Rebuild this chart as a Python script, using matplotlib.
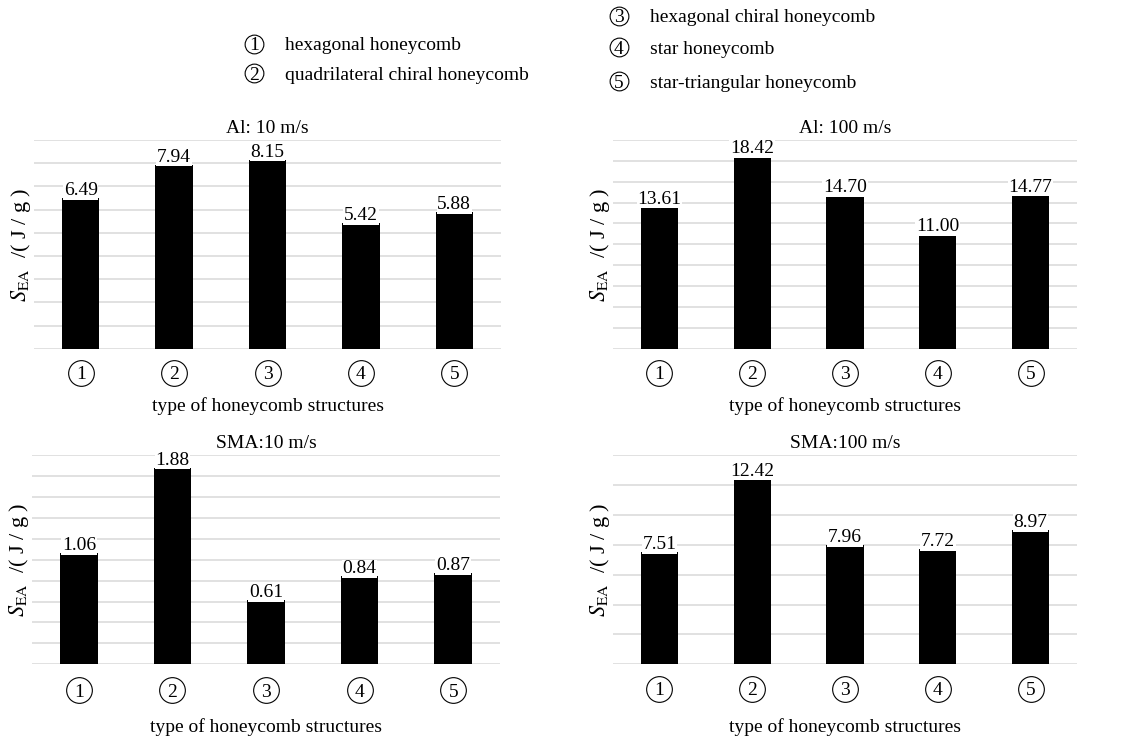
import numpy as np
import matplotlib.pyplot as plt
from matplotlib.transforms import blended_transform_factory, offset_copy
from matplotlib.lines import Line2D

plt.rcParams['font.family'] = ['Liberation Serif', 'DejaVu Serif']
plt.rcParams['mathtext.fontset'] = 'stix'
plt.rcParams['font.size'] = 14

# specific energy absorption per honeycomb type
categories = ['1', '2', '3', '4', '5']
structure_names = ['hexagonal honeycomb', 'quadrilateral chiral honeycomb',
                   'hexagonal chiral honeycomb', 'star honeycomb',
                   'star-triangular honeycomb']
al_10 = [6.49, 7.94, 8.15, 5.42, 5.88]
al_100 = [13.61, 18.42, 14.70, 11.00, 14.77]
sma_10 = [1.06, 1.88, 0.61, 0.84, 0.87]
sma_100 = [7.51, 12.42, 7.96, 7.72, 8.97]
titles = ['Al: 10 m/s', 'Al: 100 m/s', 'SMA:10 m/s', 'SMA:100 m/s']

W, H = 1124, 742
fig = plt.figure(figsize=(W / 100, H / 100), dpi=100)


def px_axes(l, t, r, b):
    return fig.add_axes([l / W, 1 - b / H, (r - l) / W, (b - t) / H])


def panel(ax, values, title, ymax, step, circ_off=24, xpad=35):
    x = np.arange(len(values))
    ax.bar(x, values, width=0.4, color='black', zorder=2)
    ax.set_xlim(-0.5, len(values) - 0.5)
    ax.set_ylim(0, ymax)
    ax.set_yticks(np.arange(0, ymax + step / 2, step))
    ax.set_yticklabels([])
    ax.set_xticks([])
    ax.tick_params(length=0)
    ax.grid(axis='y', color='#d9d9d9', lw=1.1, zorder=0)
    ax.set_axisbelow(True)
    for s in ax.spines.values():
        s.set_visible(False)
    for xi, v in zip(x, values):
        ax.annotate('%.2f' % v, (xi, v), xytext=(0, 3), textcoords='offset pixels',
                    ha='center', va='baseline', zorder=3,
                    bbox=dict(fc='white', ec='none', pad=0.5))
    # circled category numbers under the bars
    tr = blended_transform_factory(ax.transData, ax.transAxes)
    ax.plot(x, np.zeros(len(x)), 'o', ms=18.5, mfc='none', mec='black', mew=0.8,
            transform=offset_copy(tr, fig=fig, y=-circ_off, units='dots'), clip_on=False)
    for xi, c in zip(x, categories):
        ax.text(xi, 0, c, ha='center', va='baseline',
                transform=offset_copy(tr, fig=fig, y=-circ_off - 6.5, units='dots'))
    ax.set_title(title, fontsize=14, pad=5)
    ax.set_xlabel('type of honeycomb structures', fontsize=14, labelpad=xpad)
    ax.set_ylabel(r'$S_{\mathrm{EA}}$  /( J / g )', fontsize=16, labelpad=-3)


panel(px_axes(34, 140, 501, 348.7), al_10, titles[0], 9, 1)
panel(px_axes(613, 140, 1077, 348.7), al_100, titles[1], 20, 2)
panel(px_axes(32, 455, 500, 664.3), sma_10, titles[2], 2, 0.2, circ_off=26, xpad=39)
panel(px_axes(613, 455, 1077, 664.3), sma_100, titles[3], 14, 2, circ_off=24.5, xpad=39)

# legend of structure types at the top
legend_pos = [(254, 44), (254, 73), (619, 16), (619, 47), (619, 81)]
for (cx, cy), c, name in zip(legend_pos, categories, structure_names):
    fig.add_artist(Line2D([cx / W], [1 - cy / H], marker='o', ms=13.5, mfc='none',
                          mec='black', mew=0.8, transform=fig.transFigure))
    fig.text(cx / W, 1 - (cy + 6.5) / H, c, ha='center', va='baseline', fontsize=14)
    fig.text((cx + 31) / W, 1 - (cy + 6.5) / H, name, ha='left', va='baseline', fontsize=14)

plt.savefig('out.png', dpi=100)
